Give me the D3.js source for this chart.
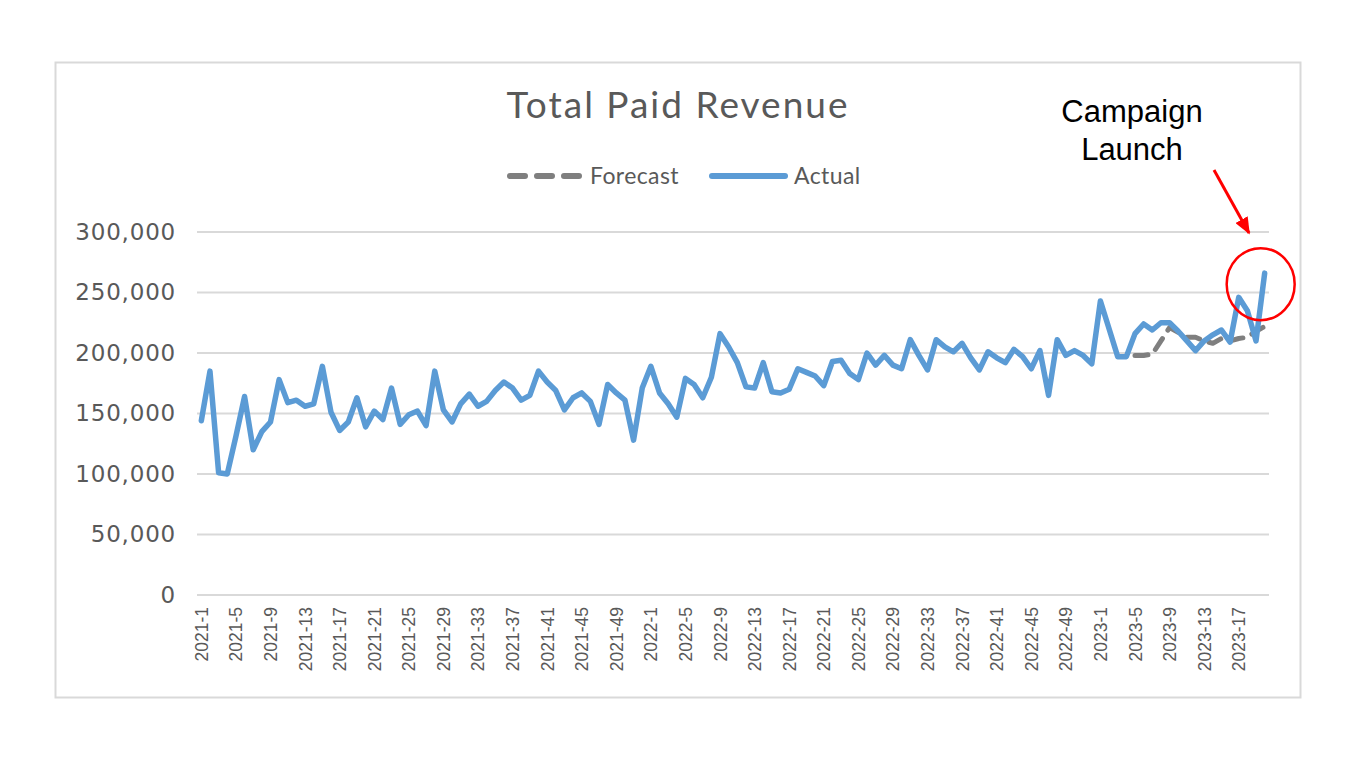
<!DOCTYPE html>
<html>
<head>
<meta charset="utf-8">
<script src="https://cdn.jsdelivr.net/npm/d3@7"></script>
<style>
  html, body { margin: 0; padding: 0; background: #fff; }
  svg { display: block; }
</style>
</head>
<body>
<div id="chart"></div>
<script>
// Chart size
const width = 1360;
const height = 764;

// Weeks per year shown on the axis
const years = [2021, 2022, 2023];
const weeksInYear = [52, 52, 20];

// Weekly actual paid revenue
const actual = [
  144000, 185000, 101000, 100000, 131000, 164000, 120000, 135000, 143000, 178000,
  159000, 161000, 156000, 158000, 189000, 151000, 136000, 143000, 163000, 139000,
  152000, 145000, 171000, 141000, 149000, 152000, 140000, 185000, 153000, 143000,
  158000, 166000, 156000, 160000, 169000, 176000, 171000, 161000, 165000, 185000,
  176000, 169000, 153000, 163000, 167000, 160000, 141000, 174000, 167000, 161000,
  128000, 171000, 189000, 167000, 158000, 147000, 179000, 174000, 163000, 180000,
  216000, 205000, 192000, 172000, 171000, 192000, 168000, 167000, 170000, 187000,
  184000, 181000, 173000, 193000, 194000, 183000, 178000, 200000, 190000, 198000,
  190000, 187000, 211000, 198000, 186000, 211000, 205000, 201000, 208000, 196000,
  186000, 201000, 196000, 192000, 203000, 197000, 187000, 202000, 165000, 211000,
  198000, 202000, 198000, 191000, 243000, 220000, 197000, 197000, 216000, 224000,
  219000, 225000, 225000, 218000, 210000, 202000, 210000, 215000, 219000, 209000,
  246000, 235000, 210000, 266000
];

// Forecast starts at 2023-5
const forecastStart = "2023-5";
const forecast = [
  198000, 198000, 199000, 210000, 221000, 217000, 213000, 213000,
  210000, 208000, 212000, 210000, 212000, 213000, 218000, 222000
];

const yTicks = [0, 50000, 100000, 150000, 200000, 250000, 300000];
const labelEvery = 4;

// Build week categories like "2021-1"
const categories = [];
years.forEach((yr, k) => {
  for (let w = 1; w <= weeksInYear[k]; w++) categories.push(`${yr}-${w}`);
});

const actualData = categories.map((c, i) => ({ cat: c, value: actual[i] }));
const startIdx = categories.indexOf(forecastStart);
const forecastData = forecast.map((v, i) => ({ cat: categories[startIdx + i], value: v }));

const svg = d3.select("#chart").append("svg")
  .attr("width", width)
  .attr("height", height);

// outer chart frame
svg.append("rect")
  .attr("x", 55.5).attr("y", 62.5)
  .attr("width", 1245).attr("height", 635)
  .attr("fill", "#fff")
  .attr("stroke", "#d9d9d9")
  .attr("stroke-width", 2);

const x = d3.scalePoint()
  .domain(categories)
  .range([197, 1269])
  .padding(0.5);

const y = d3.scaleLinear()
  .domain([0, 300000])
  .range([595, 232]);

// gridlines
svg.append("g")
  .selectAll("line")
  .data(yTicks)
  .join("line")
  .attr("x1", 197).attr("x2", 1269)
  .attr("y1", d => y(d)).attr("y2", d => y(d))
  .attr("stroke", "#d9d9d9")
  .attr("stroke-width", 2);

// y axis labels
const yAxis = svg.append("g")
  .attr("transform", "translate(176,0)")
  .call(d3.axisLeft(y).tickValues(yTicks).tickSize(0).tickPadding(0)
    .tickFormat(d3.format(",")));
yAxis.select(".domain").remove();
yAxis.selectAll("text")
  .attr("fill", "#595959")
  .style("font-family", "'DejaVu Sans', sans-serif")
  .style("font-size", "23px")
  .style("letter-spacing", "0.8px");

// x axis labels, every 4th week, rotated
const xAxis = svg.append("g")
  .attr("transform", "translate(0,595)")
  .call(d3.axisBottom(x)
    .tickValues(categories.filter((c, i) => i % labelEvery === 0))
    .tickSize(0).tickPadding(0));
xAxis.select(".domain").remove();
xAxis.selectAll("text")
  .attr("fill", "#595959")
  .attr("text-anchor", "end")
  .attr("dy", null)
  .attr("dominant-baseline", "central")
  .attr("transform", "translate(0,12) rotate(-90)")
  .attr("y", 0)
  .attr("x", 0)
  .style("font-family", "'Liberation Sans', Arial, sans-serif")
  .style("font-size", "17.5px");

const line = d3.line()
  .x(d => x(d.cat))
  .y(d => y(d.value));

// forecast (dashed grey) under actual
svg.append("path")
  .datum(forecastData)
  .attr("fill", "none")
  .attr("stroke", "#7f7f7f")
  .attr("stroke-width", 5)
  .attr("stroke-dasharray", "13,10")
  .attr("stroke-linecap", "round")
  .attr("stroke-linejoin", "round")
  .attr("d", line);

svg.append("path")
  .datum(actualData)
  .attr("fill", "none")
  .attr("stroke", "#5b9bd5")
  .attr("stroke-width", 5.5)
  .attr("stroke-linejoin", "round")
  .attr("stroke-linecap", "round")
  .attr("d", line);

// title
svg.append("text")
  .attr("x", 678).attr("y", 118)
  .attr("text-anchor", "middle")
  .attr("fill", "#595959")
  .style("font-family", "Lato, sans-serif")
  .style("font-size", "37px")
  .style("letter-spacing", "2px")
  .text("Total Paid Revenue");

// legend
const legend = svg.append("g").style("font-family", "Lato, sans-serif").style("font-size", "23px");
legend.append("line")
  .attr("x1", 510).attr("x2", 579).attr("y1", 176).attr("y2", 176)
  .attr("stroke", "#7f7f7f").attr("stroke-width", 6)
  .attr("stroke-dasharray", "15,12").attr("stroke-linecap", "round");
legend.append("text").attr("x", 590).attr("y", 184).attr("fill", "#595959")
  .style("letter-spacing", "0.4px").text("Forecast");
legend.append("line")
  .attr("x1", 712).attr("x2", 785).attr("y1", 176).attr("y2", 176)
  .attr("stroke", "#5b9bd5").attr("stroke-width", 6)
  .attr("stroke-linecap", "round");
legend.append("text").attr("x", 794).attr("y", 184).attr("fill", "#595959")
  .style("letter-spacing", "0.4px").text("Actual");

// annotation
const note = svg.append("g")
  .style("font-family", "'Liberation Sans', Arial, sans-serif")
  .style("font-size", "31px")
  .attr("fill", "#000");
note.append("text").attr("x", 1132).attr("y", 122).attr("text-anchor", "middle").text("Campaign");
note.append("text").attr("x", 1132).attr("y", 160).attr("text-anchor", "middle").text("Launch");

svg.append("defs").append("marker")
  .attr("id", "arrow")
  .attr("viewBox", "0 0 10 10")
  .attr("refX", 9).attr("refY", 5)
  .attr("markerWidth", 8).attr("markerHeight", 7)
  .attr("markerUnits", "userSpaceOnUse")
  .attr("orient", "auto")
  .append("path")
  .attr("d", "M0,0 L10,5 L0,10 Z")
  .attr("fill", "#ff0000");
svg.select("#arrow")
  .attr("markerWidth", 17).attr("markerHeight", 14)
  .attr("preserveAspectRatio", "none");

svg.append("line")
  .attr("x1", 1214).attr("y1", 170)
  .attr("x2", 1249).attr("y2", 233)
  .attr("stroke", "#ff0000")
  .attr("stroke-width", 3)
  .attr("marker-end", "url(#arrow)");

// circle around the last point
const last = actualData[actualData.length - 1];
svg.append("ellipse")
  .attr("cx", x(last.cat) - 4)
  .attr("cy", y(last.value) + 11)
  .attr("rx", 34).attr("ry", 36)
  .attr("fill", "none")
  .attr("stroke", "#ff0000")
  .attr("stroke-width", 2.5);
</script>
</body>
</html>
